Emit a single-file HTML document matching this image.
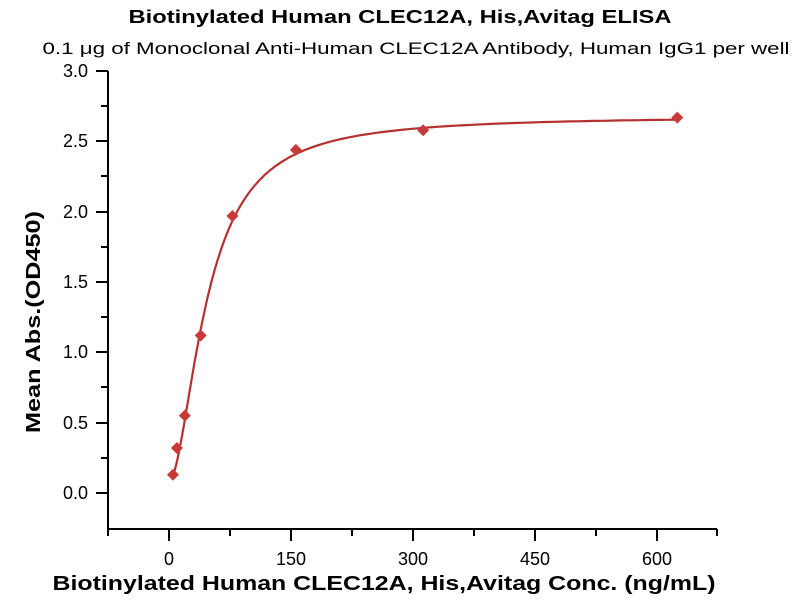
<!DOCTYPE html><html><head><style>body{margin:0;background:#fff}svg{display:block}text{font-family:"Liberation Sans",sans-serif;fill:#000}</style></head><body>
<svg width="800" height="600" xmlns="http://www.w3.org/2000/svg">
<text x="400" y="23" text-anchor="middle" font-size="18" font-weight="bold" textLength="543" lengthAdjust="spacingAndGlyphs">Biotinylated Human CLEC12A, His,Avitag ELISA</text>
<text x="416" y="54" text-anchor="middle" font-size="17" textLength="747" lengthAdjust="spacingAndGlyphs">0.1 μg of Monoclonal Anti-Human CLEC12A Antibody, Human IgG1 per well</text>
<g stroke="#000" stroke-width="2" fill="none">
<path d="M108 71V529H717"/>
<path d="M96 71H108M96 141H108M96 212H108M96 282H108M96 352H108M96 423H108M96 493H108"/>
<path d="M101 106H108M101 176H108M101 247H108M101 317H108M101 387H108M101 458H108"/>
<path d="M169 529V541M291 529V541M413 529V541M535 529V541M657 529V541"/>
<path d="M108 529V536M230 529V536M352 529V536M474 529V536M596 529V536M717 529V536"/>
</g>
<g font-size="18" text-anchor="end">
<text x="88" y="77">3.0</text><text x="88" y="147">2.5</text><text x="88" y="218">2.0</text><text x="88" y="288">1.5</text><text x="88" y="358">1.0</text><text x="88" y="429">0.5</text><text x="88" y="499">0.0</text>
</g>
<g font-size="18" text-anchor="middle">
<text x="169" y="565">0</text><text x="291" y="565">150</text><text x="413" y="565">300</text><text x="535" y="565">450</text><text x="657" y="565">600</text>
</g>
<text x="384" y="590" text-anchor="middle" font-size="20" font-weight="bold" textLength="663" lengthAdjust="spacingAndGlyphs">Biotinylated Human CLEC12A, His,Avitag Conc. (ng/mL)</text>
<text transform="translate(40 322) rotate(-90)" text-anchor="middle" font-size="20" font-weight="bold" textLength="222" lengthAdjust="spacingAndGlyphs">Mean Abs.(OD450)</text>
<path id="c" fill="none" stroke="#b53131" stroke-width="2.2"/>
<g id="p" fill="#c83a3a"></g>
</svg>
<script>
var X=v=>169+v*0.8133,Y=v=>493-v*140.6;
var f=x=>0.08+(2.6)/(1+Math.pow(x/47,-1.8));
var d="";for(var x=4.88;x<=625;x*=1.02){d+=(d?"L":"M")+X(x).toFixed(1)+" "+Y(f(x)).toFixed(1);}
d+="L"+X(625)+" "+Y(f(625));
document.getElementById("c").setAttribute("d",d);
var pts=[[4.88,0.13],[9.77,0.32],[19.5,0.55],[39,1.12],[78,1.97],[156,2.44],[312.5,2.58],[625,2.67]],s="";
pts.forEach(p=>{var a=X(p[0]),b=Y(p[1]);s+='<path d="M'+a+' '+(b-6)+'L'+(a+6)+' '+b+'L'+a+' '+(b+6)+'L'+(a-6)+' '+b+'Z"/>';});
document.getElementById("p").innerHTML=s;
</script>
</body></html>
